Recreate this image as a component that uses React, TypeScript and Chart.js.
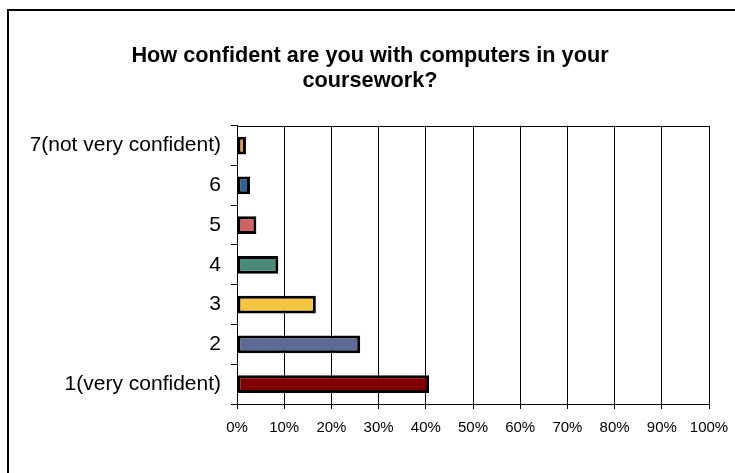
import React, { useEffect, useRef } from "react";
import { Chart, registerables } from "chart.js";

Chart.register(...registerables);

const titleLines = ["How confident are you with computers in your", "coursework?"];
const categories = ["7(not very confident)", "6", "5", "4", "3", "2", "1(very confident)"];
const percentValues = [1.9, 2.75, 4.1, 8.75, 16.7, 26.1, 40.7];
const barColors = ["#D49A5A", "#2E6393", "#D06262", "#4A8A78", "#F5C542", "#5E6A96", "#800000"];
const xTicks = [0, 10, 20, 30, 40, 50, 60, 70, 80, 90, 100];

const FONT = "Liberation Sans, Arial, sans-serif";

const framePlugin = {
  id: "frameAndBorder",
  afterDraw(chart: any) {
    const ctx = chart.ctx;
    const a = chart.chartArea;
    ctx.save();
    ctx.strokeStyle = "#000";
    ctx.lineWidth = 1;
    ctx.beginPath();
    ctx.moveTo(Math.round(a.left) + 0.5, Math.round(a.top) + 0.5);
    ctx.lineTo(Math.round(a.right) + 0.5, Math.round(a.top) + 0.5);
    ctx.stroke();
    ctx.lineWidth = 2;
    ctx.beginPath();
    ctx.moveTo(8, chart.height + 2);
    ctx.lineTo(8, 10);
    ctx.lineTo(chart.width + 2, 10);
    ctx.stroke();
    ctx.restore();
  },
};

export default function App() {
  const ref = useRef<HTMLCanvasElement | null>(null);
  useEffect(() => {
    if (!ref.current) return;
    const chart = new Chart(ref.current, {
      type: "bar",
      data: {
        labels: categories,
        datasets: [
          {
            data: percentValues,
            backgroundColor: barColors,
            borderColor: "#000",
            borderWidth: 3,
            borderSkipped: false,
            barPercentage: 0.45,
            categoryPercentage: 1,
          },
        ],
      },
      plugins: [framePlugin],
      options: {
        indexAxis: "y",
        animation: false,
        responsive: false,
        maintainAspectRatio: false,
        layout: { padding: { left: 31, right: 26, top: 0, bottom: 0 } },
        plugins: {
          legend: { display: false },
          tooltip: { enabled: false },
          title: {
            display: true,
            text: titleLines,
            color: "#000",
            font: { family: FONT, size: 21.7, weight: "bold", lineHeight: 1.18 },
            padding: { top: 43, bottom: 31.5 },
          },
        },
        scales: {
          x: {
            min: 0,
            max: 100,
            afterBuildTicks: (s: any) => {
              s.ticks = xTicks.map((v) => ({ value: v }));
            },
            afterFit: (s: any) => {
              s.height = 69;
              s.paddingLeft = 0;
              s.paddingRight = 0;
            },
            ticks: {
              color: "#000",
              font: { family: FONT, size: 15 },
              padding: 10,
              callback: (v: any) => v + "%",
            },
            grid: { color: "#000", lineWidth: 1, tickLength: 5, drawTicks: true },
            border: { color: "#000", width: 1 },
          },
          y: {
            offset: true,
            afterFit: (s: any) => {
              s.width = 206;
              s.paddingTop = 0;
              s.paddingBottom = 0;
            },
            ticks: {
              color: "#000",
              font: { family: FONT, size: 21 },
              padding: 10,
            },
            grid: { offset: true, drawOnChartArea: false, color: "#000", tickLength: 6 },
            border: { color: "#000", width: 1 },
          },
        },
      },
    });
    return () => chart.destroy();
  }, []);
  return (
    <div style={{ position: "fixed", left: 0, top: 0, width: 735, height: 473, background: "#fff" }}>
      <canvas ref={ref} width={735} height={473} style={{ display: "block" }} />
    </div>
  );
}
